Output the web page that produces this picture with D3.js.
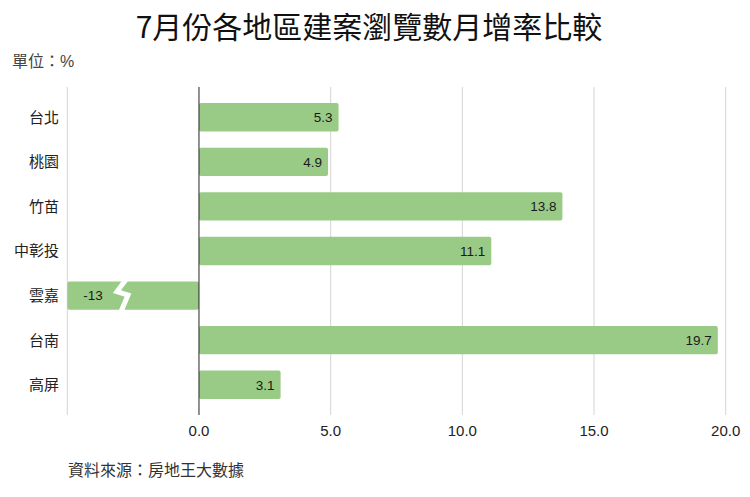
<!DOCTYPE html>
<html>
<head>
<meta charset="utf-8">
<script src="https://cdn.jsdelivr.net/npm/d3@7"></script>
<style>
  body { margin: 0; background: #fff; }
  text { font-family: "Liberation Sans", "Noto Sans CJK TC", sans-serif; }
</style>
</head>
<body>
<div id="main"></div>
<script>
// regions and their month-over-month change (%)
const regions = ['台北', '桃園', '竹苗', '中彰投', '雲嘉', '台南', '高屏'];
const changes = [5.3, 4.9, 13.8, 11.1, -13, 19.7, 3.1];
const xTicks = [0, 5, 10, 15, 20];
const xDomain = [-5, 20];

const width = 750, height = 497;

let svg = d3.select('#main')
    .append('svg')
        .attr('width', width)
        .attr('height', height);

const x = d3.scaleLinear().domain(xDomain).range([67.3, 725.7]);
const y = d3.scaleBand().domain(regions).range([87, 415])
    .paddingInner(0.364).paddingOuter(0.36);

const data = regions.map((r, i) => ({ region: r, value: changes[i] }));

// title + unit + source
svg.append('text')
    .attr('x', 369).attr('y', 38)
    .attr('text-anchor', 'middle')
    .style('font-family', '"Noto Sans CJK TC", sans-serif')
    .style('font-size', '30px')
    .style('font-weight', 400)
    .style('fill', '#111')
    .text('7月份各地區建案瀏覽數月增率比較');

svg.append('text')
    .attr('x', 12).attr('y', 67)
    .style('font-size', '16px')
    .style('fill', '#444')
    .text('單位：%');

svg.append('text')
    .attr('x', 68).attr('y', 476)
    .style('font-size', '16px')
    .style('fill', '#333')
    .text('資料來源：房地王大數據');

// vertical gridlines (the left one marks the clipped edge)
svg.selectAll('.grid')
    .data([xDomain[0]].concat(xTicks.filter(d => d !== 0)))
    .enter()
    .append('line')
        .attr('class', 'grid')
        .attr('x1', d => x(d)).attr('x2', d => x(d))
        .attr('y1', 87).attr('y2', 415)
        .style('stroke', '#d4d4d4')
        .style('stroke-width', 1);

// x tick labels
svg.selectAll('.xtick')
    .data(xTicks)
    .enter()
    .append('text')
        .attr('class', 'xtick')
        .attr('x', d => x(d))
        .attr('y', 436)
        .attr('text-anchor', 'middle')
        .style('font-size', '15px')
        .style('fill', '#222')
        .text(d => d.toFixed(1));

// bars, clipped to the visible domain
const clip = v => Math.max(xDomain[0], Math.min(xDomain[1], v));

svg.selectAll('.bar')
    .data(data)
    .enter()
    .append('rect')
        .attr('class', 'bar')
        .attr('x', d => x(Math.min(0, clip(d.value))))
        .attr('y', d => y(d.region))
        .attr('width', d => Math.abs(x(clip(d.value)) - x(0)))
        .attr('height', y.bandwidth())
        .attr('rx', 2)
        .style('fill', '#99cb86');

// break mark on bars that run past the axis
const broken = data.filter(d => d.value < xDomain[0]);
svg.selectAll('.break')
    .data(broken)
    .enter()
    .append('path')
        .attr('class', 'break')
        .attr('d', d => {
            const cx = x(-3), top = y(d.region) - 2, bw = y.bandwidth();
            return `M${cx + 6},${top} L${cx - 3},${top + bw * 0.43} L${cx + 8},${top + bw * 0.55} L${cx + 1},${top + bw + 4}`;
        })
        .style('fill', 'none')
        .style('stroke', '#fff')
        .style('stroke-width', 5)
        .style('stroke-linejoin', 'miter');

// zero line
svg.append('line')
    .attr('x1', x(0)).attr('x2', x(0))
    .attr('y1', 87).attr('y2', 415)
    .style('stroke', '#222')
    .style('stroke-width', 1);

// value labels inside the bars
svg.selectAll('.value')
    .data(data)
    .enter()
    .append('text')
        .attr('class', 'value')
        .attr('x', d => d.value < 0 ? x(clip(d.value)) + 16 : x(d.value) - 6)
        .attr('y', d => y(d.region) + y.bandwidth() / 2)
        .attr('dy', '0.36em')
        .attr('text-anchor', d => d.value < 0 ? 'start' : 'end')
        .style('font-size', '13.5px')
        .style('fill', '#1a1a1a')
        .text(d => d.value);

// region labels
svg.selectAll('.cat')
    .data(data)
    .enter()
    .append('text')
        .attr('class', 'cat')
        .attr('x', 59)
        .attr('y', d => y(d.region) + y.bandwidth() / 2)
        .attr('dy', '0.36em')
        .attr('text-anchor', 'end')
        .style('font-size', '15px')
        .style('fill', '#222')
        .text(d => d.region);
</script>
</body>
</html>
